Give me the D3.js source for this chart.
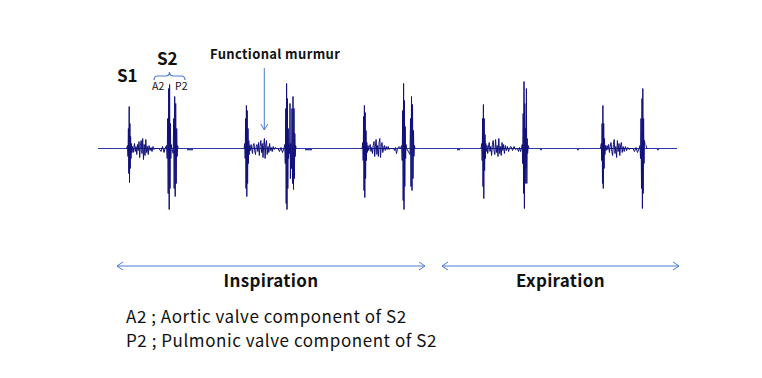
<!DOCTYPE html>
<html>
<head>
<meta charset="utf-8">
<script src="https://cdn.jsdelivr.net/npm/d3@7"></script>
<style>
  html, body { margin: 0; padding: 0; background: #ffffff; }
  svg { display: block; }
  text { font-family: "Noto Sans CJK JP", "Noto Sans", sans-serif; fill: #111; }
</style>
</head>
<body>
<div id="chart"></div>
<script>
// time in seconds, amplitude in arbitrary units
const beat1 = [
  [0.285, 0], [0.295, 3], [0.300, -8], [0.304, 20], [0.308, -25], [0.312, 42], [0.315, -34],
  [0.319, 25], [0.322, -20], [0.326, 12], [0.330, -10], [0.334, 5], [0.338, -4],
  [0.345, 2], [0.352, -4], [0.358, 1], [0.365, 5], [0.372, -3], [0.380, 2], [0.388, -6],
  [0.395, 4], [0.402, -2], [0.410, 7], [0.417, -9], [0.424, 3], [0.432, 8], [0.440, -5],
  [0.447, 10], [0.455, -11], [0.462, 4], [0.470, -7], [0.478, 9], [0.486, -4], [0.494, 2],
  [0.502, -6], [0.510, 3], [0.520, -2], [0.530, 1], [0.540, -3], [0.550, 2], [0.560, -1],
  [0.570, 0],
  [0.610, 0], [0.630, -3], [0.645, 2], [0.660, -4], [0.670, 0],
  [0.685, 3], [0.692, -10], [0.697, 30], [0.702, -45], [0.707, 60], [0.712, -61], [0.716, 64],
  [0.720, -40], [0.724, 25], [0.728, -10], [0.732, 4], [0.738, 0],
  [0.752, -5], [0.757, 30], [0.762, -40], [0.767, 52], [0.772, -48], [0.777, 45], [0.782, -35],
  [0.787, 20], [0.791, -8], [0.796, 3], [0.802, 0]
];
const beat2 = [
  [1.460, 0], [1.468, 5], [1.472, -10], [1.476, 30], [1.480, -40], [1.484, 43], [1.488, -48],
  [1.492, 38], [1.496, -35], [1.500, 20], [1.504, -15], [1.508, 8], [1.512, -6], [1.516, 3],
  [1.524, -2], [1.531, 4], [1.538, -1], [1.545, -5], [1.552, 3], [1.560, 5], [1.567, -2],
  [1.575, -6], [1.582, 2], [1.590, 4], [1.598, -3], [1.606, 6], [1.613, -7], [1.620, 2],
  [1.628, 8], [1.636, -4], [1.643, 5], [1.650, -9], [1.657, 3], [1.664, 10], [1.671, -10],
  [1.678, 4], [1.685, 8], [1.692, -6], [1.700, 2], [1.708, -4], [1.716, 5], [1.724, -2],
  [1.732, 1], [1.742, -3], [1.752, 2], [1.762, -1], [1.772, 1], [1.785, 0],
  [1.800, 0], [1.815, -3], [1.830, 1], [1.845, -4], [1.860, 0],
  [1.868, 4], [1.873, -15], [1.878, 40], [1.882, -55], [1.886, 65], [1.890, -61], [1.894, 50],
  [1.898, -40], [1.902, 20], [1.906, -10], [1.910, 4],
  [1.916, -5], [1.920, 45], [1.924, -30], [1.928, 5],
  [1.935, -20], [1.940, 40], [1.945, -35], [1.950, 52], [1.955, -41], [1.960, 40], [1.964, -30],
  [1.968, 15], [1.972, -8], [1.976, 3], [1.982, 0]
];
const beat3 = [
  [2.640, 0], [2.648, 6], [2.652, -12], [2.656, 32], [2.660, -42], [2.664, 43], [2.668, -49],
  [2.672, 36], [2.676, -30], [2.680, 18], [2.684, -12], [2.688, 6], [2.692, -4],
  [2.700, 3], [2.707, -2], [2.714, 1], [2.722, 4], [2.730, -3], [2.737, 1], [2.745, -5],
  [2.752, 3], [2.760, 7], [2.767, -8], [2.774, 2], [2.781, 9], [2.789, -6], [2.796, 3],
  [2.804, -8], [2.811, 6], [2.818, 10], [2.825, -9], [2.832, 2], [2.840, 6], [2.848, -4],
  [2.856, 1], [2.864, 3], [2.872, -2], [2.882, 2], [2.892, -1], [2.902, 2], [2.912, -1],
  [2.920, 0],
  [2.955, 0], [2.965, -2], [2.975, 1], [2.985, -5], [2.995, 0], [3.010, 2], [3.025, 0],
  [3.037, 3], [3.042, -12], [3.047, 38], [3.052, -52], [3.056, 65], [3.060, -61], [3.064, 48],
  [3.068, -38], [3.072, 22], [3.076, -10], [3.080, 4], [3.086, 0],
  [3.120, -6], [3.125, 30], [3.130, -38], [3.135, 52], [3.140, -42], [3.145, 44], [3.150, -30],
  [3.155, 18], [3.159, -8], [3.164, 3], [3.170, 0]
];
const beat4 = [
  [3.830, 0], [3.838, 5], [3.842, -12], [3.846, 30], [3.850, -38], [3.854, 44], [3.858, -50],
  [3.862, 30], [3.866, -22], [3.870, 14], [3.874, -10], [3.878, 5], [3.882, -3],
  [3.890, 3], [3.897, -5], [3.904, 1], [3.912, 6], [3.920, -3], [3.928, 2], [3.936, -7],
  [3.944, 4], [3.952, 8], [3.960, -2], [3.968, -6], [3.976, 9], [3.984, -4], [3.992, 3],
  [4.000, -8], [4.008, 10], [4.016, -5], [4.024, 2], [4.032, -7], [4.040, 6], [4.048, -2],
  [4.056, 4], [4.064, -5], [4.074, 3], [4.084, -2], [4.094, 2], [4.106, -3], [4.118, 1],
  [4.130, 2], [4.145, -2], [4.160, 2], [4.175, -1], [4.190, 0],
  [4.195, 0], [4.205, -3], [4.215, 1], [4.225, -3], [4.235, 0],
  [4.242, 4], [4.247, -15], [4.252, 35], [4.256, -45], [4.260, 67], [4.264, -60], [4.268, 45],
  [4.272, -35], [4.276, 20], [4.280, -20], [4.284, 60], [4.288, -35], [4.292, 10], [4.296, -5],
  [4.302, 3], [4.310, 0]
];
const beat5 = [
  [5.025, 0], [5.033, 5], [5.037, -12], [5.041, 25], [5.045, -35], [5.049, 43], [5.053, -40],
  [5.057, 25], [5.061, -20], [5.065, 10], [5.069, -6], [5.073, 3],
  [5.082, -2], [5.090, 3], [5.098, -1], [5.106, 4], [5.114, -4], [5.122, 2], [5.130, 6],
  [5.138, -3], [5.146, -7], [5.154, 4], [5.162, 9], [5.170, -5], [5.178, 2], [5.186, -9],
  [5.194, 8], [5.202, -3], [5.210, 5], [5.218, -7], [5.226, 3], [5.234, 6], [5.242, -4],
  [5.252, 2], [5.262, -3], [5.274, 2], [5.286, -2], [5.298, 1], [5.310, -1], [5.325, 0],
  [5.350, 0], [5.365, -3], [5.380, 1], [5.395, -4], [5.410, 0],
  [5.420, 3], [5.425, -10], [5.430, 30], [5.435, -40], [5.440, 50], [5.444, -60], [5.448, 60],
  [5.452, -45], [5.456, 30], [5.460, -15], [5.464, 8], [5.470, 4], [5.480, 3], [5.490, 0]
];
// short flat pieces just under the baseline between beats
const dashes = [
  [0.89, 0.95], [2.07, 2.14], [3.59, 3.62], [4.42, 4.44], [4.79, 4.81], [5.59, 5.61]
];
const traceSpan = [0, 5.79];

const phases = ['Inspiration', 'Expiration'];
const phaseSpans = [[0.19, 3.27], [3.44, 5.81]];
const legendLines = ['A2 ; Aortic valve component of S2', 'P2 ; Pulmonic valve component of S2'];

const width = 762, height = 378;
const blue = '#4a7bd0';

const svg = d3.select('#chart')
  .append('svg')
  .attr('width', width)
  .attr('height', height)
  .attr('viewBox', `0 0 ${width} ${height}`);

const x = d3.scaleLinear().domain([0, 5.8]).range([98, 678]);
const y = d3.scaleLinear().domain([-65, 65]).range([213.5, 83.5]);

const line = d3.line().x(d => x(d[0])).y(d => y(d[1]));

// baseline
svg.append('line')
  .attr('x1', x(traceSpan[0]))
  .attr('x2', x(traceSpan[1]))
  .attr('y1', y(0))
  .attr('y2', y(0))
  .attr('stroke', '#2b3aa6')
  .attr('stroke-width', 1.2);

svg.append('g')
  .selectAll('path')
  .data(dashes)
  .join('path')
  .attr('fill', 'none')
  .attr('stroke', '#2b3aa6')
  .attr('stroke-width', 1.6)
  .attr('d', d => line([[d[0], -1], [d[1], -1]]));

svg.append('g')
  .selectAll('path')
  .data([beat1, beat2, beat3, beat4, beat5])
  .join('path')
  .attr('fill', 'none')
  .attr('stroke', '#10107a')
  .attr('stroke-width', 1)
  .attr('stroke-linejoin', 'miter')
  .attr('d', line);

// S1 / S2 labels
svg.append('text').attr('x', 117).attr('y', 82)
  .style('font-size', '17px').style('font-weight', 700).text('S1');
svg.append('text').attr('x', 157).attr('y', 65)
  .style('font-size', '17px').style('font-weight', 700).text('S2');

const bx0 = x(0.56), bx1 = x(0.87), bxm = x(0.715), by = 76;
svg.append('path')
  .attr('fill', 'none')
  .attr('stroke', blue)
  .attr('stroke-width', 1.2)
  .attr('d', `M${bx0},${by + 4} Q${bx0},${by} ${bx0 + 4},${by} L${bxm - 4},${by} Q${bxm},${by} ${bxm},${by - 4}
              Q${bxm},${by} ${bxm + 4},${by} L${bx1 - 4},${by} Q${bx1},${by} ${bx1},${by + 4}`);

svg.append('text').attr('x', x(0.54)).attr('y', 89.5)
  .style('font-size', '10.5px').text('A2');
svg.append('text').attr('x', x(0.77)).attr('y', 89.5)
  .style('font-size', '10.5px').text('P2');

// functional murmur pointer
const mx = x(1.663);
svg.append('text').attr('x', 210).attr('y', 59)
  .style('font-size', '13px').style('font-weight', 700).style('letter-spacing', '0.35px')
  .text('Functional murmur');
svg.append('line')
  .attr('x1', mx).attr('x2', mx).attr('y1', 68).attr('y2', 130)
  .attr('stroke', blue).attr('stroke-width', 1);
svg.append('path')
  .attr('fill', 'none').attr('stroke', blue).attr('stroke-width', 1)
  .attr('d', `M${mx - 3.5},${124} L${mx},${130} L${mx + 3.5},${124}`);

// breathing phase arrows
const ay = 266;
const phaseG = svg.append('g')
  .selectAll('g')
  .data(phases)
  .join('g');

phaseG.append('line')
  .attr('x1', (d, i) => x(phaseSpans[i][0]))
  .attr('x2', (d, i) => x(phaseSpans[i][1]))
  .attr('y1', ay).attr('y2', ay)
  .attr('stroke', blue).attr('stroke-width', 1);

phaseG.append('path')
  .attr('fill', 'none').attr('stroke', blue).attr('stroke-width', 1)
  .attr('d', (d, i) => {
    const a = x(phaseSpans[i][0]), b = x(phaseSpans[i][1]);
    return `M${a + 6},${ay - 4} L${a},${ay} L${a + 6},${ay + 4} M${b - 6},${ay - 4} L${b},${ay} L${b - 6},${ay + 4}`;
  });

phaseG.append('text')
  .attr('x', (d, i) => (x(phaseSpans[i][0]) + x(phaseSpans[i][1])) / 2)
  .attr('y', 287)
  .attr('text-anchor', 'middle')
  .style('font-size', '17px')
  .style('font-weight', 700)
  .style('letter-spacing', '0.3px')
  .text(d => d);

// legend
svg.append('g')
  .selectAll('text')
  .data(legendLines)
  .join('text')
  .attr('x', 126)
  .attr('y', (d, i) => 323 + i * 24)
  .style('font-size', '17px')
  .style('letter-spacing', '0.55px')
  .text(d => d);
</script>
</body>
</html>
